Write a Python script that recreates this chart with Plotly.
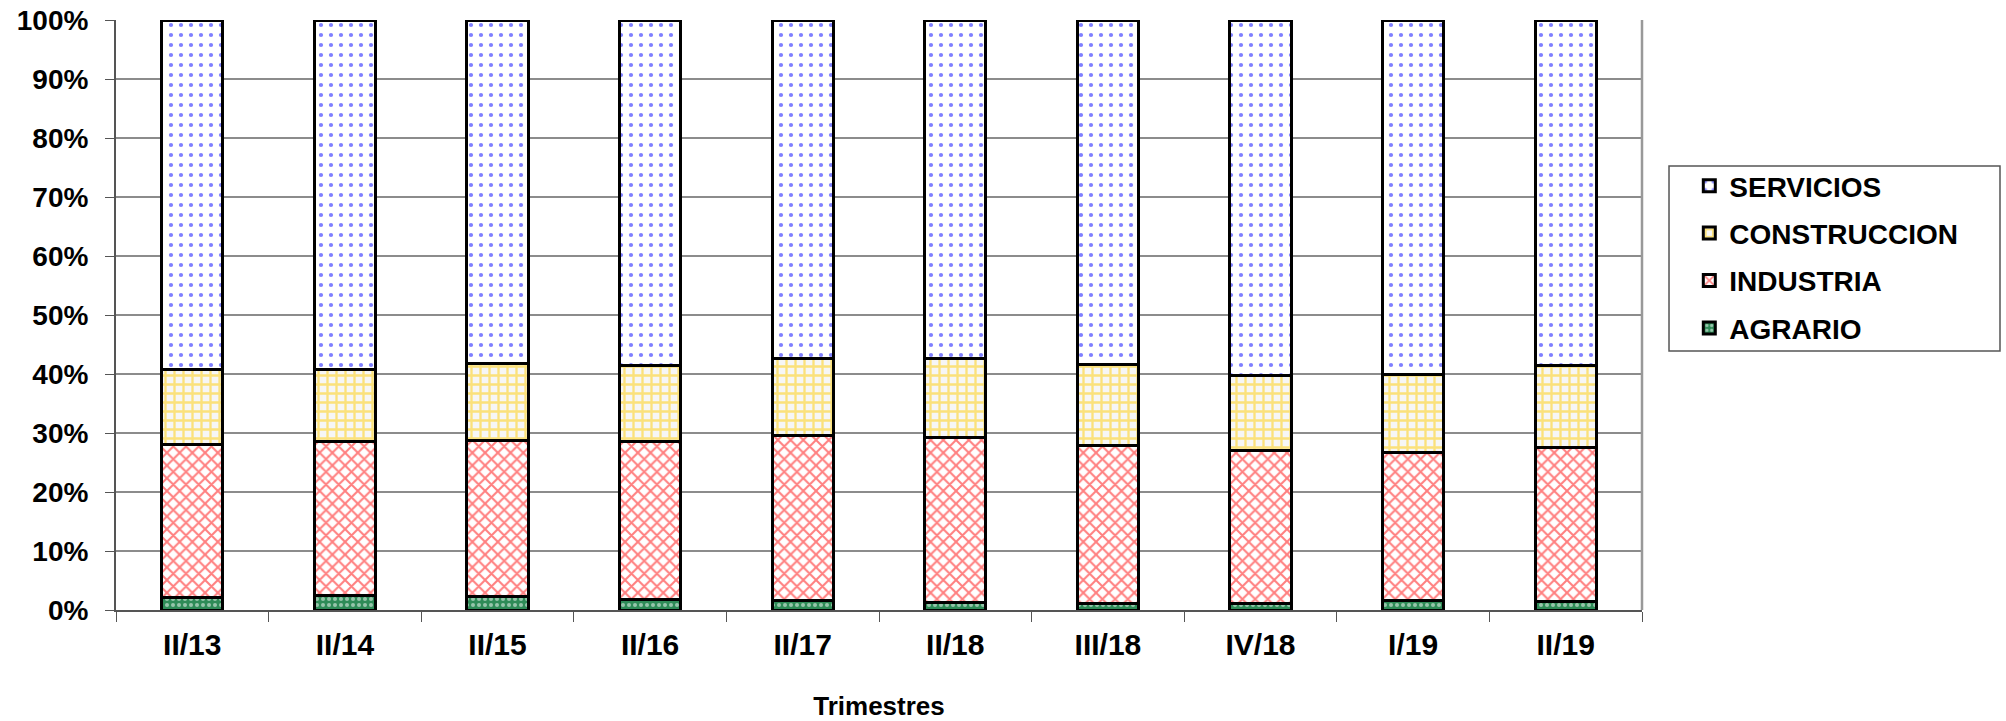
import plotly.graph_objects as go

categories = ["II/13", "II/14", "II/15", "II/16", "II/17", "II/18", "III/18", "IV/18", "I/19", "II/19"]
agrario = [2.2, 2.5, 2.25, 1.7, 1.6, 1.3, 1.1, 1.1, 1.6, 1.4]
industria = [25.9, 26.0, 26.55, 26.8, 27.9, 27.9, 26.8, 26.0, 25.1, 26.1]
construccion = [12.6, 12.2, 12.9, 12.9, 13.1, 13.5, 13.7, 12.6, 13.2, 13.9]
servicios = [59.3, 59.3, 58.3, 58.6, 57.4, 57.3, 58.4, 60.3, 60.1, 58.6]
y_ticks = [0, 10, 20, 30, 40, 50, 60, 70, 80, 90, 100]
y_ticktext = [f"{v}%" for v in y_ticks]

FONT = "Liberation Sans, Arial, sans-serif"

series = [
    ("AGRARIO", agrario, 4, dict(shape=".", fgcolor="#ffffff", bgcolor="#2e8b57", size=6, solidity=0.35)),
    ("INDUSTRIA", industria, 3, dict(shape="x", fgcolor="#ff0000", bgcolor="#ffffff", size=9, solidity=0.4)),
    ("CONSTRUCCION", construccion, 2, dict(shape="+", fgcolor="#ffcc00", bgcolor="#f6f6f6", size=9, solidity=0.45)),
    ("SERVICIOS", servicios, 1, dict(shape=".", fgcolor="#0000ff", bgcolor="#ffffff", size=10, solidity=0.14)),
]

fig = go.Figure()
for name, vals, rank, pat in series:
    fig.add_trace(go.Bar(
        x=categories, y=vals, name=name, legendgroup=name, legendrank=rank,
        marker=dict(color=pat["bgcolor"], pattern=pat, line=dict(color="#000000", width=3)),
    ))

fig.update_layout(
    width=2006, height=721,
    barmode="stack", bargap=0.6,
    paper_bgcolor="#ffffff", plot_bgcolor="#ffffff",
    margin=dict(l=116, r=364, t=20, b=111, autoexpand=False),
    font=dict(family=FONT, color="#000000"),
    legend=dict(
        traceorder="grouped", x=1.031, xanchor="left", y=0.761, yanchor="top",
        font=dict(family=FONT, size=28, weight="bold"),
        tracegroupgap=8, bgcolor="rgba(0,0,0,0)", borderwidth=0,
    ),
    xaxis=dict(
        automargin=False,
        tickson="boundaries", ticks="outside", ticklen=10, tickcolor="#555555",
        showline=True, linecolor="#555555", linewidth=2,
        tickfont=dict(family=FONT, size=30, weight="bold"),
        ticklabelstandoff=7,
        title=dict(text="Trimestres", font=dict(family=FONT, size=26, weight="bold"), standoff=39),
        showgrid=False,
    ),
    yaxis=dict(
        automargin=False,
        range=[0, 100], tickmode="array", tickvals=y_ticks, ticktext=y_ticktext,
        ticks="outside", ticklen=9, tickcolor="#555555",
        showline=True, linecolor="#555555", linewidth=2,
        gridcolor="#8c8c8c", gridwidth=1.5,
        tickfont=dict(family=FONT, size=28, weight="bold"),
        ticklabelstandoff=11, zeroline=False,
    ),
    shapes=[
        dict(type="line", xref="paper", yref="paper", x0=1, x1=1, y0=0, y1=1,
             line=dict(color="#999999", width=2.5)),
        dict(type="rect", xref="paper", yref="paper", x0=1.0177, x1=1.2346, y0=0.439, y1=0.7525,
             line=dict(color="#555555", width=1.5), fillcolor="rgba(0,0,0,0)"),
    ],
)

fig.write_html("out.html", config={"displayModeBar": False},
               post_script="document.body.style.margin='0px';")
